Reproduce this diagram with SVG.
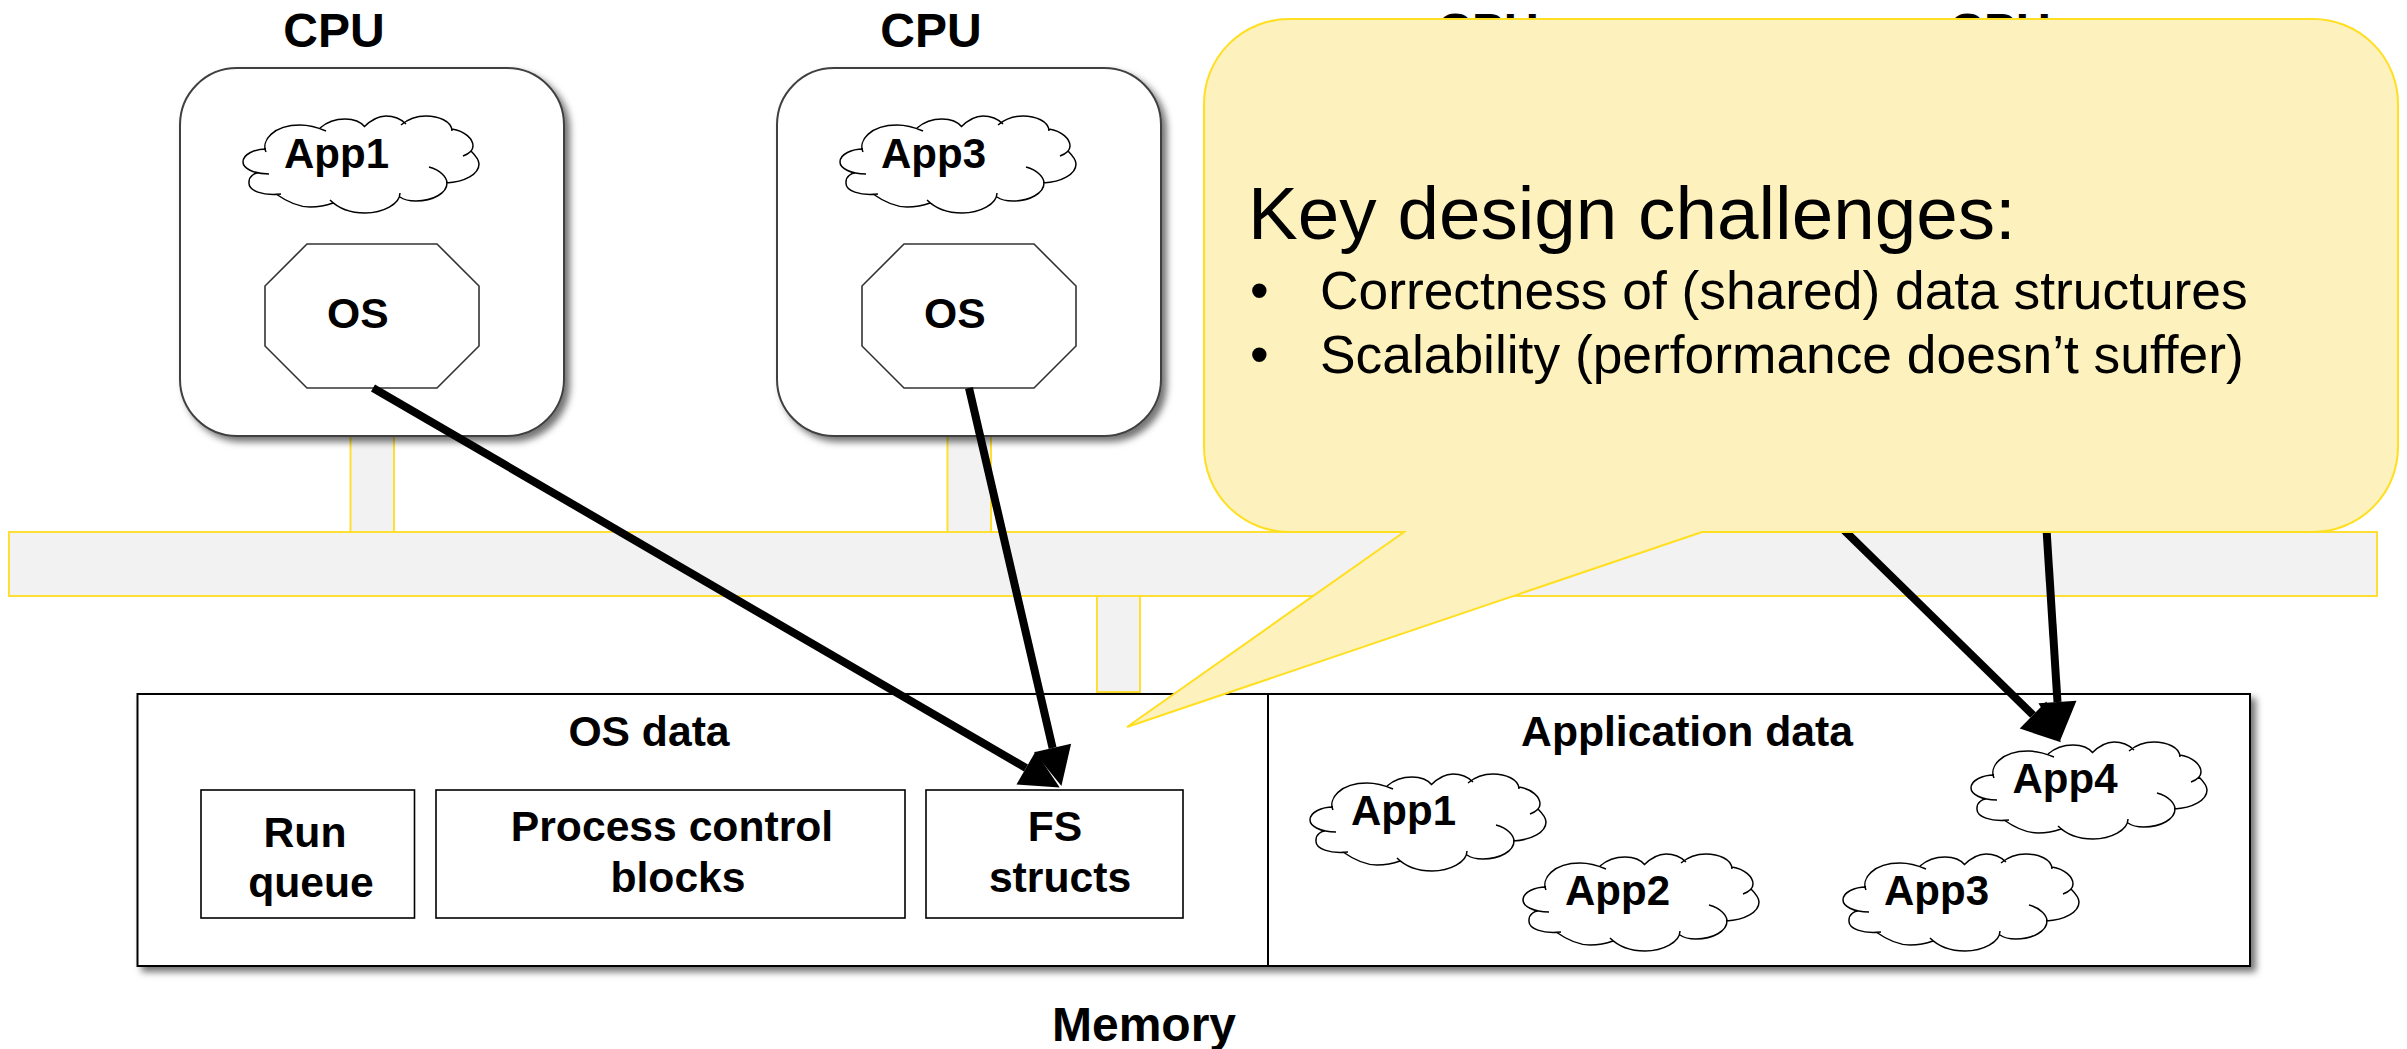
<svg xmlns="http://www.w3.org/2000/svg" width="2407" height="1049" viewBox="0 0 2407 1049">
<style>
text{font-family:"Liberation Sans",Arial,sans-serif;fill:#000}
.b{font-weight:bold;font-size:42.670px}
.a{font-weight:bold;font-size:42px}
.c{text-anchor:middle}
.cpu{font-weight:bold;font-size:48px;text-anchor:middle}
.box{fill:#fff;stroke:#404040;stroke-width:2}
.oct{fill:#fff;stroke:#333;stroke-width:1.6}
.mem{fill:#fff;stroke:#000;stroke-width:2}
.bus{fill:#f2f2f2;stroke:#ffdf33;stroke-width:2}
.cl{fill:#fff;stroke:#000;stroke-width:1.5}
.arr{stroke:#000;stroke-width:8;fill:none;marker-end:url(#ah)}
.call{fill:#fdf1be;stroke:#ffdf20;stroke-width:2}
.k{font-size:74.670px}
.t{font-size:53.330px}
</style>
<defs>
<filter id="sh" x="-10%" y="-10%" width="125%" height="125%"><feDropShadow dx="5" dy="5" stdDeviation="3.5" flood-color="#000" flood-opacity="0.55"/></filter>
<marker id="ah" markerUnits="userSpaceOnUse" markerWidth="40" markerHeight="40" refX="0" refY="19" orient="auto" viewBox="0 0 40 40" overflow="visible"><path d="M0,0L39,19L0,38Z" fill="#000"/></marker>
<path id="cloud" class="cl" d="M38,78C20,80 5,75 6,66C6,60 12,57 15,57M26,58C10,58 0,52 0,46C0,38 12,33 23,33M23,36C18,25 30,9 57,9C66,9 76,12 83,15M77,12C85,5 95,3 102,3C110,3 118,6 122,11M121,11C128,4 136,0 143,0C150,0 158,3 163,8M158,9C165,3 175,0 183,0C195,0 209,5 209,15M209,13C222,15 230,23 230,30C230,33 228,37 220,40M228,35C233,40 236,45 236,48C236,58 222,66 203,67M186,51C198,54 204,62 204,67C204,77 190,85 173,85C166,85 161,84 157,81M157,77C157,88 140,97 122,97C107,97 95,92 87,84M90,87C82,90 75,91 67,91C55,91 43,85 33,78"/>
<path id="octa" class="oct" d="M42,0H172L214,42V102L172,144H42L0,102V42Z"/>
</defs>
<rect width="2407" height="1049" fill="#fff"/>
<g id="bus-parts">
<rect class="bus" x="350.500" y="430" width="43.500" height="102"/>
<rect class="bus" x="947.500" y="430" width="43.500" height="102"/>
<rect class="bus" x="1097" y="596" width="43" height="96"/>
<rect class="bus" x="9" y="532" width="2368" height="64"/>
</g>
<g id="cpu1">
<text class="cpu" x="334" y="46.500">CPU</text>
<rect class="box" x="180" y="68" width="384" height="368" rx="57" filter="url(#sh)"/>
<use href="#cloud" x="243" y="116"/>
<text class="a" x="284" y="168">App1</text>
<use href="#octa" x="265" y="244"/>
<text class="b" x="327" y="328">OS</text>
</g>
<g id="cpu2">
<text class="cpu" x="931" y="46.500">CPU</text>
<rect class="box" x="777" y="68" width="384" height="368" rx="57" filter="url(#sh)"/>
<use href="#cloud" x="840" y="116"/>
<text class="a" x="881" y="168">App3</text>
<use href="#octa" x="862" y="244"/>
<text class="b" x="924" y="328">OS</text>
</g>
<g id="cpu3"><text class="cpu" x="1488" y="46.500">CPU</text></g>
<g id="cpu4"><text class="cpu" x="2000" y="46.500">CPU</text></g>
<g id="memory">
<rect class="mem" x="137.500" y="694" width="2112.500" height="272" filter="url(#sh)"/>
<line x1="1268" y1="694" x2="1268" y2="966" stroke="#000" stroke-width="2"/>
<text class="b c" x="649" y="745.500">OS data</text>
<text class="b c" x="1687" y="746">Application data</text>
<text class="cpu" x="1144" y="1041">Memory</text>
</g>
<g id="run-queue">
<rect class="mem" x="201" y="790" width="213.500" height="128" style="stroke-width:1.600"/>
<text class="b c" x="305" y="846.500">Run</text>
<text class="b c" x="311" y="896.500">queue</text>
</g>
<g id="pcb">
<rect class="mem" x="436" y="790" width="469" height="128" style="stroke-width:1.600"/>
<text class="b c" x="672" y="840.500">Process control</text>
<text class="b c" x="678" y="891.500">blocks</text>
</g>
<g id="fs">
<rect class="mem" x="926" y="790" width="257" height="128" style="stroke-width:1.600"/>
<text class="b c" x="1055" y="840.500">FS</text>
<text class="b c" x="1060" y="891.500">structs</text>
</g>
<g id="app-data-1"><use href="#cloud" x="1310" y="774"/><text class="a" x="1351" y="825">App1</text></g>
<g id="app-data-2"><use href="#cloud" x="1523" y="854"/><text class="a" x="1565" y="905">App2</text></g>
<g id="app-data-3"><use href="#cloud" x="1843" y="854"/><text class="a" x="1884" y="905">App3</text></g>
<g id="app-data-4"><use href="#cloud" x="1971" y="742"/><text class="a" x="2012.500" y="793">App4</text></g>
<g id="connectors">
<line class="arr" x1="373" y1="388" x2="1026" y2="768"/>
<line class="arr" x1="969" y1="388" x2="1052.600" y2="748"/>
<line class="arr" x1="1800" y1="487" x2="2033" y2="715"/>
<line class="arr" x1="2044" y1="490" x2="2057.500" y2="702"/>
</g>
<g id="callout">
<path class="call" d="M1289,19H2313A85,85 0 0 1 2398,104V447A85,85 0 0 1 2313,532H1702L1127,727L1404,532H1289A85,85 0 0 1 1204,447V104A85,85 0 0 1 1289,19Z"/>
<text class="k" x="1248" y="238.500">Key design challenges:</text>
<text class="t" x="1250" y="309">•</text>
<text class="t" x="1320" y="309">Correctness of (shared) data structures</text>
<text class="t" x="1250" y="373">•</text>
<text class="t" x="1320" y="373">Scalability (performance doesn’t suffer)</text>
</g>
</svg>
